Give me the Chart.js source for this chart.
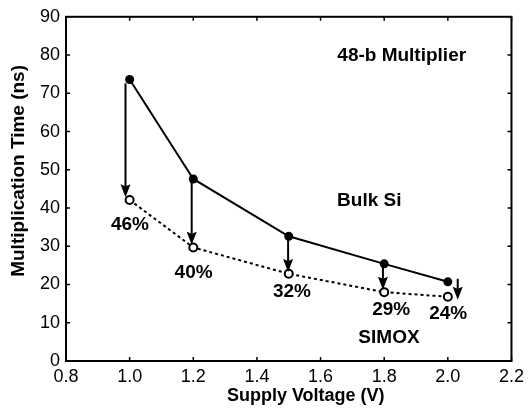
<!DOCTYPE html>
<html>
<head>
<meta charset="utf-8">
<title>48-b Multiplier</title>
<script src="https://cdn.jsdelivr.net/npm/chart.js@4.4.1/dist/chart.umd.min.js"></script>
<style>
  html, body { margin: 0; padding: 0; background: #fff; }
  canvas { display: block; }
</style>
</head>
<body>
<canvas id="chart" width="529" height="411"></canvas>
<script>
// supply voltage (V) for each measurement
const voltage = [1.0, 1.2, 1.5, 1.8, 2.0];
// multiplication time (ns)
const bulkSi = [73.6, 47.6, 32.6, 25.4, 20.7];
const simox = [42.1, 29.7, 22.8, 18.0, 16.8];

// arrows showing the speed-up from bulk Si to SIMOX
const arrowX = [0.987, 1.195, 1.498, 1.796, 2.031];
const arrowTop = [72.6, 47.6, 32.6, 25.4, 21.5];
const arrowTip = [42.8, 30.4, 23.3, 18.6, 16.0];

// percentage labels under each arrow
const pctText = ['46%', '40%', '32%', '29%', '24%'];
const pctX = [1.001, 1.201, 1.510, 1.822, 2.001];
const pctY = [35.5, 23.2, 18.2, 13.5, 12.4];

// in-plot labels
const noteText = ['48-b Multiplier', 'Bulk Si', 'SIMOX'];
const noteX = [1.855, 1.753, 1.815];
const noteY = [79.9, 42.0, 6.2];

const FONT = '"Liberation Sans", Arial, Helvetica, sans-serif';

const toPoints = (xs, ys) => xs.map((x, i) => ({ x: x, y: ys[i] }));

// frame on all four sides with inward tick marks
const framePlugin = {
  id: 'frame',
  afterDraw(chart) {
    const { ctx, chartArea: a, scales } = chart;
    ctx.save();
    ctx.strokeStyle = '#000';
    ctx.lineWidth = 2;
    ctx.strokeRect(a.left, a.top, a.right - a.left, a.bottom - a.top);
    ctx.lineWidth = 1.5;
    ctx.beginPath();
    scales.x.ticks.forEach(t => {
      const px = scales.x.getPixelForValue(t.value);
      ctx.moveTo(px, a.bottom); ctx.lineTo(px, a.bottom - 4);
      ctx.moveTo(px, a.top); ctx.lineTo(px, a.top + 4);
    });
    scales.y.ticks.forEach(t => {
      const py = scales.y.getPixelForValue(t.value);
      ctx.moveTo(a.left, py); ctx.lineTo(a.left + 4, py);
      ctx.moveTo(a.right, py); ctx.lineTo(a.right - 4, py);
    });
    ctx.stroke();

    // axis titles
    ctx.fillStyle = '#000';
    ctx.font = 'bold 18px ' + FONT;
    ctx.textAlign = 'center';
    ctx.textBaseline = 'middle';
    ctx.fillText('Supply Voltage (V)', (a.left + a.right) / 2 + 17, 396.5);
    ctx.translate(18.5, (a.top + a.bottom) / 2 - 18);
    ctx.rotate(-Math.PI / 2);
    ctx.font = 'bold 19px ' + FONT;
    ctx.fillText('Multiplication Time (ns)', 0, 0);
    ctx.restore();
  }
};

// arrows and text annotations placed in data coordinates
const annotatePlugin = {
  id: 'annotate',
  afterDatasetsDraw(chart) {
    const { ctx, scales: { x, y } } = chart;
    ctx.save();
    ctx.strokeStyle = '#000';
    ctx.fillStyle = '#000';
    ctx.lineWidth = 2;
    const headLen = 13, headHalf = 5;
    arrowX.forEach((v, i) => {
      const px = x.getPixelForValue(v);
      const y0 = y.getPixelForValue(arrowTop[i]);
      const y1 = y.getPixelForValue(arrowTip[i]);
      ctx.beginPath();
      ctx.moveTo(px, y0);
      ctx.lineTo(px, y1 - headLen + 2);
      ctx.stroke();
      ctx.beginPath();
      ctx.moveTo(px, y1);
      ctx.lineTo(px - headHalf, y1 - headLen);
      ctx.lineTo(px, y1 - headLen + 2);
      ctx.lineTo(px + headHalf, y1 - headLen);
      ctx.closePath();
      ctx.fill();
    });

    ctx.font = 'bold 19px ' + FONT;
    ctx.textAlign = 'center';
    ctx.textBaseline = 'middle';
    pctText.forEach((t, i) => {
      ctx.fillText(t, x.getPixelForValue(pctX[i]), y.getPixelForValue(pctY[i]));
    });
    noteText.forEach((t, i) => {
      ctx.fillText(t, x.getPixelForValue(noteX[i]), y.getPixelForValue(noteY[i]));
    });
    ctx.restore();
  }
};

new Chart(document.getElementById('chart').getContext('2d'), {
  type: 'line',
  data: {
    datasets: [
      {
        label: 'Bulk Si',
        data: toPoints(voltage, bulkSi),
        borderColor: '#000',
        borderWidth: 2,
        backgroundColor: '#000',
        pointRadius: 4.5,
        pointBorderWidth: 0,
        pointBackgroundColor: '#000',
        tension: 0
      },
      {
        label: 'SIMOX',
        data: toPoints(voltage, simox),
        borderColor: '#000',
        borderWidth: 2,
        borderDash: [3, 3],
        pointRadius: 4,
        pointBorderWidth: 2,
        pointBorderColor: '#000',
        pointBackgroundColor: '#fff',
        tension: 0
      }
    ]
  },
  options: {
    responsive: false,
    devicePixelRatio: 1,
    animation: false,
    layout: { padding: { top: 15, right: 14, left: 0, bottom: 0 } },
    plugins: {
      legend: { display: false },
      tooltip: { enabled: false }
    },
    scales: {
      x: {
        type: 'linear',
        min: 0.8,
        max: 2.2,
        grid: { display: false, drawTicks: false },
        border: { display: true, color: '#000', width: 2 },
        ticks: {
          stepSize: 0.2,
          padding: 5,
          color: '#000',
          font: { family: FONT, size: 18 },
          callback: v => v.toFixed(1)
        },
        afterFit(scale) { scale.height = 50; }
      },
      y: {
        min: 0,
        max: 90,
        grid: { display: false, drawTicks: false },
        border: { display: true, color: '#000', width: 2 },
        ticks: {
          stepSize: 10,
          padding: 6,
          color: '#000',
          font: { family: FONT, size: 18 }
        },
        afterFit(scale) { scale.width = 66; }
      }
    }
  },
  plugins: [framePlugin, annotatePlugin]
});
</script>
</body>
</html>
